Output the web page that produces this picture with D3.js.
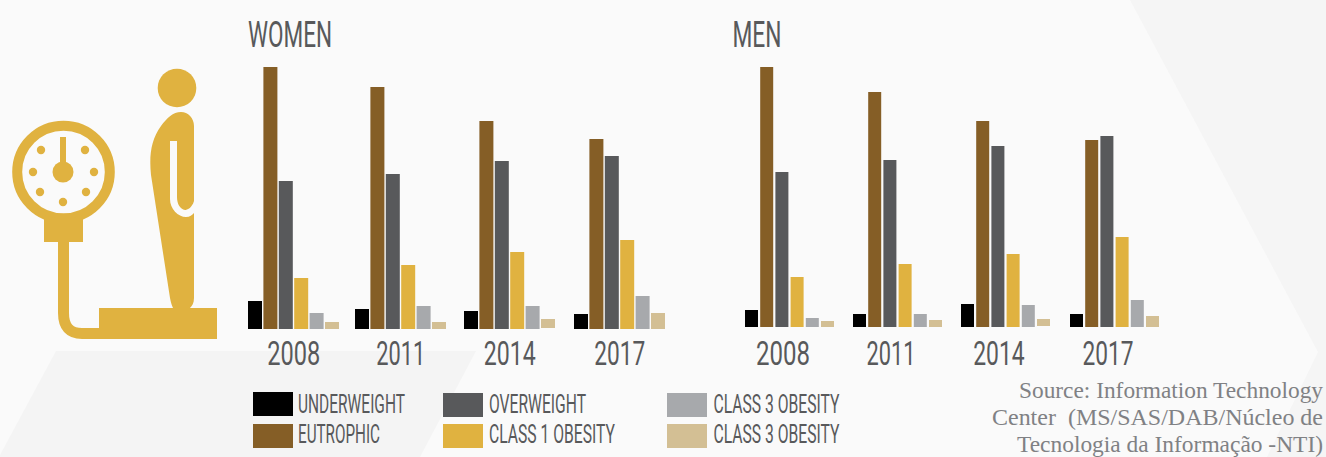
<!DOCTYPE html>
<html><head><meta charset="utf-8">
<script src="https://cdn.jsdelivr.net/npm/d3@7/dist/d3.min.js"></script>
<style>
html,body{margin:0;padding:0;background:#fafafa;overflow:hidden}
svg{display:block}
.cond{font-family:"Liberation Sans Narrow","Roboto","Liberation Sans",sans-serif;fill:#58595b}
</style></head><body>
<svg id="c" width="1326" height="457"></svg>
<script>
const years = [2008,2011,2014,2017];
const categoryLabels = ["UNDERWEIGHT","EUTROPHIC","OVERWEIGHT","CLASS 1 OBESITY","CLASS 3 OBESITY","CLASS 3 OBESITY"];
const colors = ["#000000","#855e26","#58595b","#e0b240","#a7a9ac","#d3bf94"];
// estimated percentages, one row per year
const women = [
  [5.6,52.4,29.6,10.2,3.2,1.4],
  [4.0,48.4,31.0,12.8,4.6,1.4],
  [3.6,41.6,33.6,15.4,4.6,1.8],
  [3.0,38.0,34.6,17.8,6.6,3.2]];
const men = [
  [3.4,52.0,31.0,10.0,1.8,1.2],
  [2.6,47.0,33.4,12.6,2.6,1.4],
  [4.6,41.2,36.2,14.6,4.4,1.4],
  [2.6,37.4,38.2,18.0,5.4,2.2]];
const yMax = 55;

const svg = d3.select("#c");

// background facets
const bg = svg.append("g");
[["#f4f4f4","0,457 0,455 56,351 476,351 420,457"],
 ["#f5f5f5","1130,0 1326,0 1326,457 1267,457 1318,352"]].forEach(([f,p])=>bg.append("polygon").attr("points",p).attr("fill",f));

const y = d3.scaleLinear().domain([0,yMax]).range([329,54]);
const barH = v => y(0)-y(v);

function panel(data, title, titleX, titleW, starts, step, bw, base, labelOffset, labelW){
  const g = svg.append("g");
  const x = d3.scaleLinear().domain(years).range(starts);
  const inner = d3.scalePoint().domain(d3.range(6)).range([0,step*5]);
  data.forEach((row,i)=>{
    g.append("g").attr("transform",`translate(${x(years[i])},${base-329})`)
     .selectAll("rect").data(row).join("rect")
     .attr("x",(d,j)=>inner(j))
     .attr("y",(d,j)=>y(d)-(years[i]===2014&&j===5?1:0))
     .attr("width",bw).attr("height",d=>barH(d))
     .attr("fill",(d,j)=>colors[j]);
  });
  const axis = d3.axisBottom(x).tickValues(years).tickFormat(d3.format("d")).tickSize(0).tickPadding(0);
  const ax = g.append("g").attr("transform",`translate(${labelOffset},337)`).call(axis);
  ax.select(".domain").remove();
  ax.selectAll("text").attr("class","cond").attr("font-size",33).attr("y",0).attr("dy","0.85em")
    .attr("textLength",(d,i)=>labelW[i]).attr("lengthAdjust","spacingAndGlyphs");
  g.append("text").attr("class","cond").attr("x",titleX).attr("y",47).attr("font-size",36)
   .attr("textLength",titleW).attr("lengthAdjust","spacingAndGlyphs").text(title);
}
panel(women,"WOMEN",248,84,[248,355,464,574],15.4,14,329,45.2,[53,49,52,51]);
panel(men,"MEN",732.5,49,[745,853,961,1070],15.2,13,327,37.5,[54,49,51.5,51]);

// legend
const legendX = [253,443,667], textX=[298,489,713.5], textW=[[107,82],[97,126],[126,126]], rowY=[[392,424],[393,424],[393,424]];
const legendOrder = [[0,1],[2,3],[4,5]];
const leg = svg.append("g");
legendOrder.forEach((pair,c)=>pair.forEach((k,r)=>{
  leg.append("rect").attr("x",legendX[c]).attr("y",rowY[c][r]).attr("width",40).attr("height",24).attr("fill",colors[k]);
  leg.append("text").attr("class","cond").attr("x",textX[c]).attr("y",r?442.5:412.5).attr("font-size",26)
     .attr("textLength",textW[c][r]).attr("lengthAdjust","spacingAndGlyphs").text(categoryLabels[k]);
}));

// source
const src = ["Source: Information Technology","Center  (MS/SAS/DAB/Núcleo de","Tecnologia da Informação -NTI)"];
const srcW = [304,331,306];
svg.append("g").selectAll("text").data(src).join("text")
  .attr("x",(d,i)=>1323-srcW[i]).attr("y",(d,i)=>398+i*27)
  .attr("font-family","'Liberation Serif',serif").attr("font-size",22.5).attr("fill","#808184")
  .attr("textLength",(d,i)=>srcW[i]).attr("lengthAdjust","spacingAndGlyphs")
  .style("white-space","pre").text(d=>d);

// scale + person icon
const gold="#e0b240";
const ic = svg.append("g").attr("fill",gold);
ic.append("circle").attr("cx",63.5).attr("cy",172).attr("r",46.3).attr("fill","none").attr("stroke",gold).attr("stroke-width",10);
ic.append("circle").attr("cx",63).attr("cy",172).attr("r",10.5);
ic.append("rect").attr("x",60).attr("y",137).attr("width",6).attr("height",30);
[[41,150],[85,150],[33,172],[94,172],[40,192],[86,192],[63,202]].forEach(([a,b])=>ic.append("circle").attr("cx",a).attr("cy",b).attr("r",4.2));
ic.append("path").attr("d","M44 215 Q63 222 83 215 V242 H44 Z");
ic.append("path").attr("d","M63.5 240 V313 Q63.5 333.5 82 333.5 H100").attr("fill","none").attr("stroke",gold).attr("stroke-width",11);
ic.append("rect").attr("x",99).attr("y",308).attr("width",118).attr("height",31);
ic.append("circle").attr("cx",177).attr("cy",88).attr("r",19.3);
ic.append("path").attr("fill-rule","evenodd").attr("d","M181 112 C188 112 194 118 194 126 V201 C192 208 187 210 185 210 C180 209 177 204 177 197 V141 H170 V199 C170 209 178 217 186 217 C190 217 192 215 194 213 V298 C194 303 192 306 190 308 H173 C172 306 171 303 170 298 L151 175 C149 155 151 140 161 126 C167 118 173 112 181 112 Z");
</script></body></html>
